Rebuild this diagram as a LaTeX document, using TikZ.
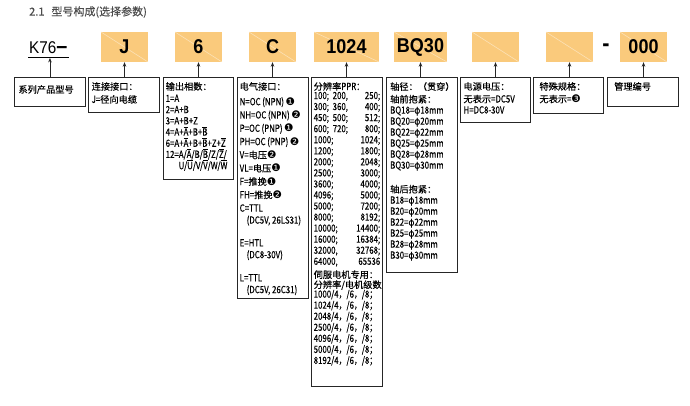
\documentclass[tikz,border=0pt]{standalone}
\usepackage{fontspec}
\setmainfont[FakeBold=0.2]{Noto Sans CJK SC}
\newfontfamily\nar[FakeStretch=0.8, Scale=1.07, FakeBold=0.2]{Noto Sans CJK SC}
\newfontfamily\dvs{DejaVu Sans}
\newfontfamily\codefont[FakeStretch=0.9]{Liberation Sans}
\usetikzlibrary{arrows.meta, positioning}
\definecolor{codeorange}{RGB}{250,202,124}
\newcommand*\zh{\rmfamily}
\newcommand*\ov[1]{$\overline{\mbox{#1}}$}
\newcommand*\nb[1]{{\dvs\fontsize{10.5}{10}\selectfont #1}}
\newcommand*\ppr[3]{\makebox[66.5pt][s]{\makebox[19pt][l]{#1}#2\hfill #3}}

\begin{document}
\begin{tikzpicture}[x=1pt, y=-1pt,
  code/.style={fill=codeorange, minimum width=47pt, minimum height=30pt, inner sep=0pt,
               font=\fontsize{20}{20}\selectfont\codefont\bfseries,
               path picture={\draw[codeorange!55!white, line width=0.6pt]
                 (path picture bounding box.north west) -- (path picture bounding box.south east);}},
  box/.style={draw=black!85, line width=0.9pt, anchor=north west, inner sep=0pt, minimum width=70pt},
  txt/.style={anchor=north west, inner sep=0pt, align=left, font=\fontsize{9.2}{11}\selectfont\nar},
  arr/.style={-{Stealth[length=4.5pt, width=3.5pt]}, line width=0.9pt, draw=black!85}
]
\useasboundingbox (0,0) rectangle (690,406);

\node[anchor=west, inner sep=0pt, text=black!70, font=\fontsize{11}{12}\selectfont] (title) at (29,12)
  {2.1\hspace{7pt}型号构成(选择参数)};

% code row
\node[anchor=base west, inner xsep=1pt, inner ysep=3.8pt, font=\fontsize{17}{17}\selectfont\codefont] (k76)
  at (28,53.3) {K76\raisebox{-0.6pt}{\fontsize{22}{22}\selectfont\bfseries –}};
\draw[line width=1pt] (k76.south west) -- (k76.south east);
\node[code] (cJ) at (124.5,47) {J};
\node[code] (c6) at (198.5,47) {6};
\node[code] (cC) at (272.5,47) {C};
\node[code, minimum width=65pt] (cppr) at (346.5,47) {1024};
\node[code, minimum width=53pt] (cshaft) at (420.5,47) {BQ30};
\node[code] (cpower) at (495.5,47) {};
\node[code] (cspec) at (569.5,47) {};
\node[anchor=base, inner sep=0pt, font=\fontsize{24}{24}\selectfont\codefont\bfseries] (dash) at (606,51.7) {-};
\node[code] (cmgmt) at (643.5,47) {000};

% description boxes
\node[box, minimum width=71pt, minimum height=29pt] (bseries) at (14,77) {};
\node[box, minimum width=71pt, minimum height=35pt] (bconn) at (88,77) {};
\node[box, minimum height=102pt] (bout) at (163,77) {};
\node[box, minimum width=71pt, minimum height=221pt] (belec) at (237,77) {};
\node[box, minimum width=71pt, minimum height=309pt] (bppr) at (311,77) {};
\node[box, minimum width=71pt, minimum height=195pt] (bshaft) at (386,77) {};
\node[box, minimum height=45pt] (bpower) at (460,77) {};
\node[box, minimum height=36pt] (bspec) at (533,77) {};
\node[box, minimum width=71pt, minimum height=29pt] (bmgmt) at (607,77) {};

\node[txt] (tseries) at (18.3,85) {\zh 系列产品型号};
\node[txt] (tconn) at (91.5,82) {{\zh 连接接口：}\\[2pt]
  J={\zh 径向电缆}};
\node[txt, font=\fontsize{9.2}{11.2}\selectfont\nar] (tout) at (165.5,82) {{\zh 输出相数：}\\[0.8pt]
  1=A\\
  2=A+B\\
  3=A+B+Z\\
  4=A+\ov{A}+B+\ov{B}\\
  6=A+\ov{A}+B+\ov{B}+Z+\ov{Z}\\
  12=A/\ov{A}/B/\ov{B}/Z/\ov{Z}/\\
  \hspace*{13pt}U/\ov{U}/V/\ov{V}/W/\ov{W}};
\node[txt, font=\fontsize{9.2}{13.3}\selectfont\nar] (telec) at (239.5,82) {{\zh 电气接口：}\\[2pt]
  N=OC\,(NPN)\,\nb{❶}\\
  NH=OC\,(NPN)\,\nb{❷}\\
  P=OC\,(PNP)\,\nb{❶}\\
  PH=OC\,(PNP)\,\nb{❷}\\
  V={\zh 电压}\nb{❷}\\
  VL={\zh 电压}\nb{❶}\\
  F={\zh 推挽}\nb{❶}\\
  FH={\zh 推挽}\nb{❷}\\
  C=TTL\\[-1.3pt]
  \hspace*{7pt}(DC5V, 26LS31)\\[9.5pt]
  E=HTL\\[-1.5pt]
  \hspace*{7pt}(DC8-30V)\\[9.8pt]
  L=TTL\\[-1.5pt]
  \hspace*{7pt}(DC5V, 26C31)};
\node[txt, font=\fontsize{9.2}{11.05}\selectfont\nar] (tppr) at (313.5,82) {{\zh 分辨率}PPR：\\[-2pt]
  \ppr{100;}{200,}{250;}\\
  \ppr{300;}{360,}{400;}\\
  \ppr{450;}{500;}{512;}\\
  \ppr{600;}{720;}{800;}\\
  \ppr{1000;}{}{1024;}\\
  \ppr{1200;}{}{1800;}\\
  \ppr{2000;}{}{2048;}\\
  \ppr{2500;}{}{3000;}\\
  \ppr{3600;}{}{4000;}\\
  \ppr{4096;}{}{5000;}\\
  \ppr{5000;}{}{7200;}\\
  \ppr{8000;}{}{8192;}\\
  \ppr{10000;}{}{14400;}\\
  \ppr{16000;}{}{16384;}\\
  \ppr{32000,}{}{32768;}\\
  \ppr{64000,}{}{65536}\\[2.3pt]
  {\zh 伺服电机专用：}\\[-1pt]
  {\zh 分辨率/电机级数}\\[-1.6pt]
  1000/4，/6，/8；\\
  1024/4，/6，/8；\\
  2048/4，/6，/8；\\
  2500/4，/6，/8；\\
  4096/4，/6，/8；\\
  5000/4，/6，/8；\\
  8192/4，/6，/8；};
\node[txt] (tshaft) at (390,82) {{\zh 轴径：（贯穿）}\\[1.6pt]
  {\zh 轴前抱紧：}\\
  BQ18=φ18mm\\
  BQ20=φ20mm\\
  BQ22=φ22mm\\
  BQ25=φ25mm\\
  BQ28=φ28mm\\
  BQ30=φ30mm\\[13pt]
  {\zh 轴后抱紧：}\\
  B18=φ18mm\\
  B20=φ20mm\\
  B22=φ22mm\\
  B25=φ25mm\\
  B28=φ28mm\\
  B30=φ30mm};
\node[txt] (tpower) at (463.3,82) {{\zh 电源电压：}\\[1.6pt]
  {\zh 无表示}=DC5V\\
  H=DC8-30V};
\node[txt] (tspec) at (539.3,82) {{\zh 特殊规格：}\\[1.6pt]
  {\zh 无表示}=\nb{❸}};
\node[txt] (tmgmt) at (614,82) {\zh 管理编号};

% arrows
\draw[arr] (bseries.north) -- (bseries.north |- k76.south);
\draw[arr] (cJ.south |- bconn.north) -- (cJ.south);
\draw[arr] (c6.south |- bout.north) -- (c6.south);
\draw[arr] (cC.south |- belec.north) -- (cC.south);
\draw[arr] (cppr.south |- bppr.north) -- (cppr.south);
\draw[arr] (cshaft.south |- bshaft.north) -- (cshaft.south);
\draw[arr] (cpower.south |- bpower.north) -- (cpower.south);
\draw[arr] (cspec.south |- bspec.north) -- (cspec.south);
\draw[arr] (cmgmt.south |- bmgmt.north) -- (cmgmt.south);
\end{tikzpicture}
\end{document}
